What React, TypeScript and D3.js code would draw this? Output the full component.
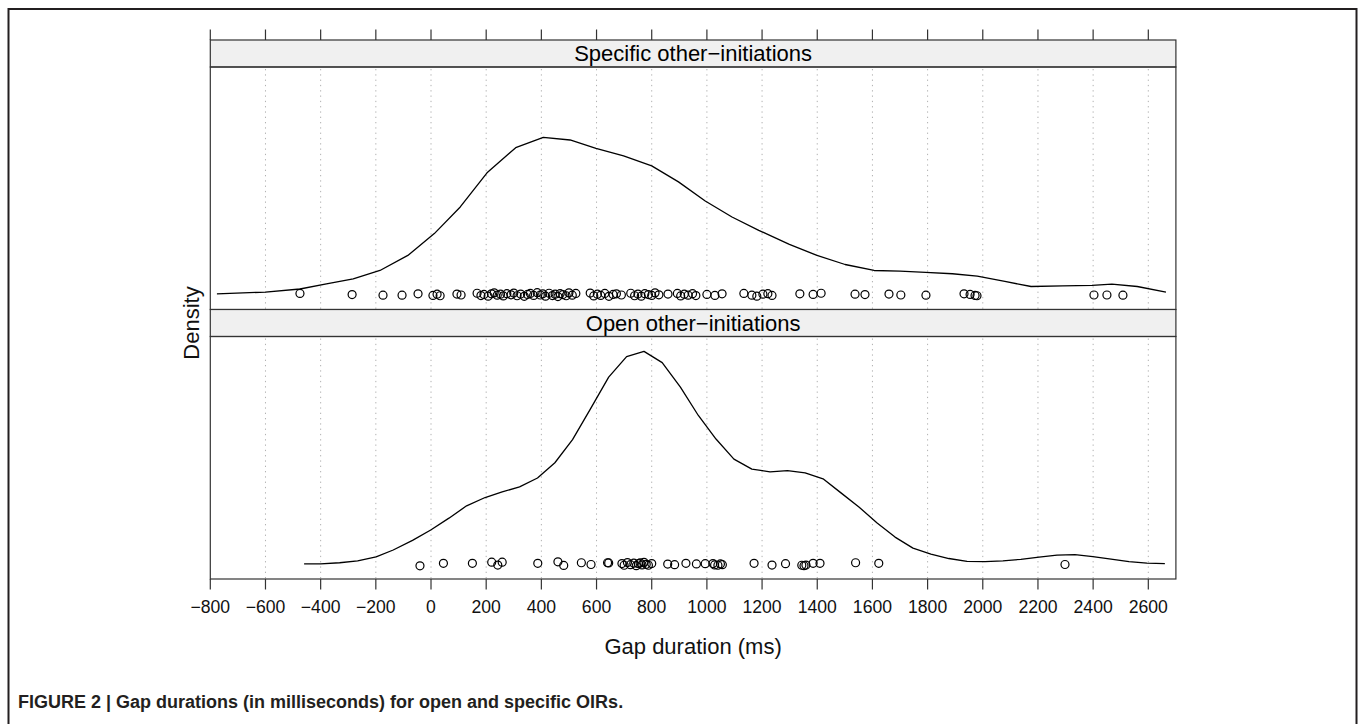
import React from "react";
import * as d3 from "d3";

// ---------- data ----------
const xTicks = [-800, -600, -400, -200, 0, 200, 400, 600, 800, 1000, 1200, 1400, 1600, 1800, 2000, 2200, 2400, 2600];
const panelTitles = ["Specific other\u2212initiations", "Open other\u2212initiations"];
const xLabel = "Gap duration (ms)";
const yLabel = "Density";
const caption = "FIGURE 2 | Gap durations (in milliseconds) for open and specific OIRs.";

// density curves: [gap ms, density (x10^-3 per ms)]
const specificCurve: [number, number][] = [
  [-776, 0.004], [-600, 0.013], [-475, 0.029], [-379, 0.056], [-282, 0.082], [-185, 0.125],
  [-84, 0.203], [12, 0.316], [106, 0.454], [203, 0.631], [307, 0.761], [407, 0.815],
  [504, 0.801], [598, 0.758], [698, 0.719], [800, 0.667], [897, 0.584], [994, 0.485],
  [1091, 0.402], [1188, 0.333], [1299, 0.26], [1399, 0.203], [1501, 0.156], [1606, 0.125],
  [1700, 0.122], [1793, 0.115], [1890, 0.108], [1980, 0.096], [2080, 0.068], [2175, 0.042],
  [2290, 0.045], [2396, 0.048], [2468, 0.054], [2560, 0.042], [2664, 0.013],
];
const openCurve: [number, number][] = [
  [-460, 0.001], [-400, 0.001], [-331, 0.007], [-266, 0.017], [-199, 0.038], [-137, 0.073],
  [-67, 0.123], [-1, 0.177], [65, 0.238], [129, 0.302], [196, 0.345], [258, 0.374],
  [321, 0.4], [386, 0.446], [449, 0.525], [513, 0.645], [578, 0.804], [644, 0.969],
  [709, 1.075], [772, 1.102], [838, 1.044], [904, 0.917], [969, 0.77], [1033, 0.648],
  [1098, 0.544], [1163, 0.492], [1229, 0.478], [1292, 0.484], [1356, 0.473], [1421, 0.442],
  [1486, 0.369], [1551, 0.296], [1617, 0.213], [1682, 0.14], [1747, 0.083], [1812, 0.052],
  [1877, 0.029], [1943, 0.014], [2008, 0.013], [2073, 0.017], [2138, 0.025], [2204, 0.036],
  [2269, 0.047], [2334, 0.049], [2399, 0.039], [2465, 0.026], [2530, 0.013], [2595, 0.005],
  [2660, 0.002],
];

// observed gaps (ms) and their vertical jitter (density units)
const specificGaps = [
  -475, -286, -174, -105, -47, 7, 22, 33, 94, 109,
  167, 181, 192, 207, 219, 229, 240, 252, 262, 275,
  290, 300, 312, 325, 338, 350, 360, 372, 385, 396,
  405, 415, 428, 440, 450, 460, 468, 478, 490, 500,
  512, 525, 577, 590, 603, 615, 630, 645, 660, 672,
  690, 724, 738, 750, 762, 775, 788, 800, 812, 826,
  859, 893, 905, 918, 932, 948, 960, 1000, 1029, 1055,
  1134, 1163, 1181, 1203, 1221, 1236, 1337, 1385, 1414, 1537,
  1573, 1660, 1703, 1794, 1932, 1954, 1972, 1979, 2403, 2450, 2508,
];
const specificJitter = [
  0.006, 0.0, -0.003, -0.003, 0.004, -0.004, 0.002, -0.006, 0.003, -0.002,
  0.007, -0.005, 0.001, -0.008, 0.004, 0.009, -0.003, 0.002, -0.007, 0.005,
  -0.001, 0.008, -0.006, 0.003, -0.009, 0.001, 0.006, -0.004, 0.01, -0.002,
  0.004, -0.008, 0.007, -0.005, 0.002, -0.01, 0.005, 0.0, -0.006, 0.009,
  -0.003, 0.006, 0.008, -0.007, 0.002, -0.004, 0.006, -0.009, 0.001, 0.004,
  -0.002, 0.007, -0.006, 0.003, -0.008, 0.005, 0.0, -0.004, 0.009, -0.001,
  0.003, 0.006, -0.007, 0.002, -0.003, 0.005, -0.005, 0.001, -0.004, 0.004,
  0.006, -0.003, -0.008, 0.002, 0.005, -0.004, 0.004, 0.001, 0.007, 0.002,
  0.0, 0.003, -0.002, -0.003, 0.004, 0.001, -0.004, -0.006, -0.002, -0.002, -0.003,
];
const openGaps = [
  -40, 45, 150, 220, 242, 258, 387, 460, 481, 545,
  580, 640, 644, 692, 700, 712, 723, 735, 744, 752,
  758, 765, 772, 780, 788, 800, 858, 883, 924, 962,
  994, 1022, 1028, 1040, 1049, 1056, 1171, 1236, 1285, 1344,
  1352, 1359, 1385, 1410, 1539, 1623, 2298,
];
const openJitter = [
  -0.009, 0.004, 0.004, 0.01, -0.005, 0.01, 0.004, 0.012, -0.007, 0.007,
  -0.002, 0.007, 0.006, 0.003, -0.006, 0.008, -0.003, 0.005, -0.008, 0.002,
  0.006, -0.004, 0.009, -0.001, -0.006, 0.003, 0.0, -0.003, 0.004, 0.001,
  0.002, 0.003, -0.004, -0.006, 0.001, -0.003, 0.004, -0.005, 0.002, -0.006,
  -0.008, -0.005, 0.004, 0.004, 0.007, 0.004, -0.002,
];

// ---------- layout ----------
const W = 1360;
const H = 724;
const FONT = "'Liberation Sans', Arial, Helvetica, sans-serif";
const plotLeft = 210.3;
const plotRight = 1175.9;
const stripH = 27;
const panelH = 242.5;
const top0 = 40;

export default function App() {
  const x = d3.scaleLinear().domain([-800, 2700]).range([plotLeft, plotRight]);
  const yMax = d3.max([...specificCurve, ...openCurve], (d) => d[1]) as number;
  const yDomain = [-0.07 * yMax, 1.07 * yMax];

  const panels = [
    { title: panelTitles[0], curve: specificCurve, gaps: specificGaps, jitter: specificJitter },
    { title: panelTitles[1], curve: openCurve, gaps: openGaps, jitter: openJitter },
  ];

  const bottomAxisY = top0 + 2 * (stripH + panelH);
  const fmt = (v: number) => (v < 0 ? "\u2212" + Math.abs(v) : String(v));
  const yLabelCenter = top0 + stripH + panelH + stripH / 2;

  return (
    <div style={{ position: "absolute", left: 0, top: 0, width: W, height: H }}>
      <svg width={W} height={H} style={{ display: "block", background: "#fff" }} fontFamily={FONT}>
        <rect x={8.5} y={9} width={1348} height={760} fill="none" stroke="#231f20" strokeWidth={2} />

        {/* top ticks */}
        {xTicks.map((t) => (
          <line key={"tt" + t} x1={x(t)} x2={x(t)} y1={top0 - 10.5} y2={top0} stroke="#333" strokeWidth={1.2} />
        ))}

        {panels.map((p, i) => {
          const sTop = top0 + i * (stripH + panelH);
          const pTop = sTop + stripH;
          const pBot = pTop + panelH;
          const y = d3.scaleLinear().domain(yDomain).range([pBot, pTop]);
          const line = d3
            .line<[number, number]>()
            .x((d) => x(d[0]))
            .y((d) => y(d[1]));
          return (
            <g key={i}>
              {/* grid */}
              {xTicks
                .filter((t) => x(t) > plotLeft + 1)
                .map((t) => (
                  <line
                    key={"g" + t}
                    x1={x(t)}
                    x2={x(t)}
                    y1={pTop + 2}
                    y2={pBot}
                    stroke="#b0b0b0"
                    strokeWidth={1}
                    strokeDasharray="1.3 4"
                  />
                ))}
              {/* strip */}
              <rect x={plotLeft} y={sTop} width={plotRight - plotLeft} height={stripH} fill="#f0f0f0" stroke="#333" strokeWidth={1.2} />
              <text x={(plotLeft + plotRight) / 2} y={sTop + 21} textAnchor="middle" fontSize={22} fill="#000">
                {p.title}
              </text>
              {/* curve */}
              <path d={line(p.curve) || ""} fill="none" stroke="#000" strokeWidth={1.3} strokeLinejoin="round" />
              {/* points */}
              {p.gaps.map((g, k) => (
                <circle key={k} cx={x(g)} cy={y(p.jitter[k])} r={4} fill="none" stroke="#000" strokeWidth={1.2} />
              ))}
              {/* panel border */}
              <rect x={plotLeft} y={pTop} width={plotRight - plotLeft} height={panelH} fill="none" stroke="#333" strokeWidth={1.2} />
            </g>
          );
        })}

        {/* bottom axis */}
        {xTicks.map((t) => (
          <g key={"bt" + t}>
            <line x1={x(t)} x2={x(t)} y1={bottomAxisY} y2={bottomAxisY + 10.5} stroke="#333" strokeWidth={1.2} />
            <text x={x(t)} y={bottomAxisY + 33.5} textAnchor="middle" fontSize={17.6} fill="#111">
              {fmt(t)}
            </text>
          </g>
        ))}

        <text x={(plotLeft + plotRight) / 2} y={654} textAnchor="middle" fontSize={22} fill="#111">
          {xLabel}
        </text>
        <text transform={`translate(199, ${yLabelCenter}) rotate(-90)`} textAnchor="middle" fontSize={22} fill="#111">
          {yLabel}
        </text>

        <text x={18} y={708} fontSize={18} fontWeight="bold" fill="#231f20">
          {caption}
        </text>
      </svg>
    </div>
  );
}
